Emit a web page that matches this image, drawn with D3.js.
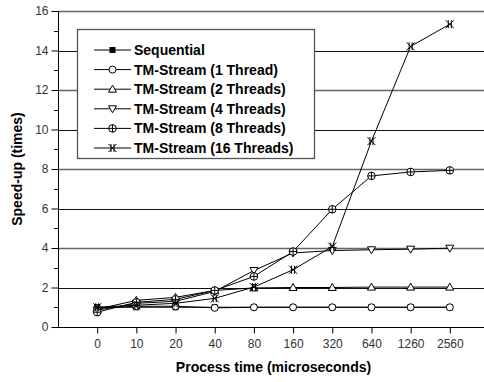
<!DOCTYPE html>
<html>
<head>
<meta charset="utf-8">
<script src="https://cdn.jsdelivr.net/npm/d3@7"></script>
<style>
  body { margin: 0; background: white; }
  svg { display: block; font-family: "Liberation Sans", Arial, sans-serif; }
</style>
</head>
<body>
<svg></svg>
<script>
let categories = ["0", "10", "20", "40", "80", "160", "320", "640", "1260", "2560"];

let sequential = [1, 1, 1, 1, 1, 1, 1, 1, 1, 1];
let thread1 = [0.95, 1.05, 1.05, 0.97, 1.0, 1.0, 1.0, 1.0, 1.0, 1.0];
let thread2 = [0.9, 1.35, 1.5, 1.85, 1.98, 2.0, 2.0, 2.02, 2.02, 2.02];
let thread4 = [0.85, 1.2, 1.3, 1.8, 2.86, 3.75, 3.87, 3.91, 3.94, 3.99];
let thread8 = [0.75, 1.25, 1.4, 1.85, 2.56, 3.82, 5.96, 7.65, 7.85, 7.93];
let thread16 = [1.0, 1.1, 1.2, 1.45, 2.02, 2.9, 4.07, 9.41, 14.21, 15.33];

let seriesNames = ["Sequential", "TM-Stream (1 Thread)", "TM-Stream (2 Threads)",
                   "TM-Stream (4 Threads)", "TM-Stream (8 Threads)", "TM-Stream (16 Threads)"];
let seriesValues = [sequential, thread1, thread2, thread4, thread8, thread16];
let seriesMarkers = ["square", "circle", "triUp", "triDown", "circlePlus", "cross"];

let yTicks = [0, 2, 4, 6, 8, 10, 12, 14, 16];

let width = 484;
let height = 382;

let plot = {
    left: 58,
    right: 489,
    top: 11,
    bottom: 327
}

let svg = d3.select("svg")
            .attr("width", width)
            .attr("height", height);

let scaleX = d3.scaleLinear()
               .domain([-1, categories.length])
               .range([plot.left, plot.right]);

let scaleY = d3.scaleLinear()
               .domain([0, 16])
               .range([plot.bottom, plot.top]);

drawGrid();
drawAxes();
drawSeries();
drawLegend();

function drawGrid(){
    svg.append("g")
       .selectAll("line")
       .data(yTicks.filter(d => d > 0))
       .enter()
       .append("line")
       .attr("x1", plot.left)
       .attr("x2", plot.right)
       .attr("y1", d => Math.round(scaleY(d)) + 0.5)
       .attr("y2", d => Math.round(scaleY(d)) + 0.5)
       .attr("stroke", (d, i) => i % 2 === 0 ? "#111" : "#666")
       .attr("stroke-width", (d, i) => i % 2 === 0 ? 1 : 1.6);
}

function drawAxes(){
    let yAxis = d3.axisLeft(scaleY)
                  .tickValues(yTicks)
                  .tickSize(7)
                  .tickPadding(3);

    let gy = svg.append("g")
                .attr("transform", `translate(${plot.left + 0.5}, 0)`)
                .call(yAxis);
    gy.select(".domain").remove();
    gy.selectAll(".tick text")
      .style("font-size", "12px")
      .attr("fill", "#333")
      .style("font-family", "'Liberation Sans', Arial, sans-serif");

    // minor ticks
    svg.append("g")
       .selectAll("line")
       .data(d3.range(1, 16, 2))
       .enter()
       .append("line")
       .attr("x1", plot.left - 4)
       .attr("x2", plot.left)
       .attr("y1", d => Math.round(scaleY(d)) + 0.5)
       .attr("y2", d => Math.round(scaleY(d)) + 0.5)
       .attr("stroke", "black");

    let xAxis = d3.axisBottom(scaleX)
                  .tickValues(d3.range(categories.length))
                  .tickFormat(i => categories[i])
                  .tickSize(6)
                  .tickPadding(6);

    let gx = svg.append("g")
                .attr("transform", `translate(0, ${plot.bottom + 0.5})`)
                .call(xAxis);
    gx.select(".domain").remove();
    gx.selectAll(".tick text")
      .style("font-size", "12px")
      .attr("fill", "#333")
      .style("font-family", "'Liberation Sans', Arial, sans-serif");

    svg.append("line")
       .attr("x1", plot.left + 0.5).attr("x2", plot.left + 0.5)
       .attr("y1", plot.top).attr("y2", plot.bottom + 1)
       .attr("stroke", "black");
    svg.append("line")
       .attr("x1", plot.left).attr("x2", plot.right)
       .attr("y1", plot.bottom + 0.5).attr("y2", plot.bottom + 0.5)
       .attr("stroke", "black");

    svg.append("text")
       .attr("x", (plot.left + plot.right) / 2)
       .attr("y", 372)
       .attr("text-anchor", "middle")
       .style("font-size", "14px")
       .style("font-weight", "bold")
       .text("Process time (microseconds)");

    svg.append("text")
       .attr("transform", `translate(22, ${(plot.top + plot.bottom) / 2}) rotate(-90)`)
       .attr("text-anchor", "middle")
       .style("font-size", "14px")
       .style("font-weight", "bold")
       .text("Speed-up (times)");
}

function drawMarker(g, type, x, y){
    if(type === "square"){
        g.append("rect").attr("x", x - 3).attr("y", y - 3)
         .attr("width", 6).attr("height", 6).attr("fill", "black");
    }
    else if(type === "circle"){
        g.append("circle").attr("cx", x).attr("cy", y).attr("r", 3.5)
         .attr("fill", "white").attr("stroke", "black");
    }
    else if(type === "triUp"){
        g.append("path").attr("d", `M${x},${y - 4}L${x + 4},${y + 3}L${x - 4},${y + 3}Z`)
         .attr("fill", "white").attr("stroke", "black");
    }
    else if(type === "triDown"){
        g.append("path").attr("d", `M${x},${y + 4}L${x + 4},${y - 3}L${x - 4},${y - 3}Z`)
         .attr("fill", "white").attr("stroke", "black");
    }
    else if(type === "circlePlus"){
        g.append("circle").attr("cx", x).attr("cy", y).attr("r", 3.8)
         .attr("fill", "white").attr("stroke", "black");
        g.append("path").attr("d", `M${x - 3.8},${y}H${x + 3.8}M${x},${y - 3.8}V${y + 3.8}`)
         .attr("stroke", "black");
    }
    else if(type === "cross"){
        g.append("path")
         .attr("d", `M${x - 4},${y - 4}L${x + 4},${y + 4}M${x + 4},${y - 4}L${x - 4},${y + 4}M${x - 1.5},${y - 4}V${y + 4}M${x + 1.5},${y - 4}V${y + 4}`)
         .attr("stroke", "black")
         .attr("fill", "none");
    }
}

function drawSeries(){
    let line = d3.line()
                 .x((d, i) => scaleX(i))
                 .y(d => scaleY(d));

    seriesValues.forEach((values, s) => {
        let g = svg.append("g");
        g.append("path")
         .datum(values)
         .attr("d", line)
         .attr("fill", "none")
         .attr("stroke", "black")
         .attr("stroke-width", 1);
        values.forEach((v, i) => {
            drawMarker(g, seriesMarkers[s], scaleX(i), scaleY(v));
        });
    });
}

function drawLegend(){
    let legend = svg.append("g");
    legend.append("rect")
          .attr("x", 77.5)
          .attr("y", 29.5)
          .attr("width", 237)
          .attr("height", 129)
          .attr("fill", "white")
          .attr("stroke", "#555")
          .attr("stroke-width", 1.3);

    seriesNames.forEach((name, i) => {
        let y = 50 + i * 19.6;
        legend.append("line")
              .attr("x1", 94).attr("x2", 131)
              .attr("y1", y).attr("y2", y)
              .attr("stroke", "black");
        drawMarker(legend, seriesMarkers[i], 112.5, y);
        legend.append("text")
              .attr("x", 134)
              .attr("y", y)
              .attr("dy", "0.36em")
              .style("font-size", "14px")
              .style("font-weight", "bold")
              .text(name);
    });
}
</script>
</body>
</html>
